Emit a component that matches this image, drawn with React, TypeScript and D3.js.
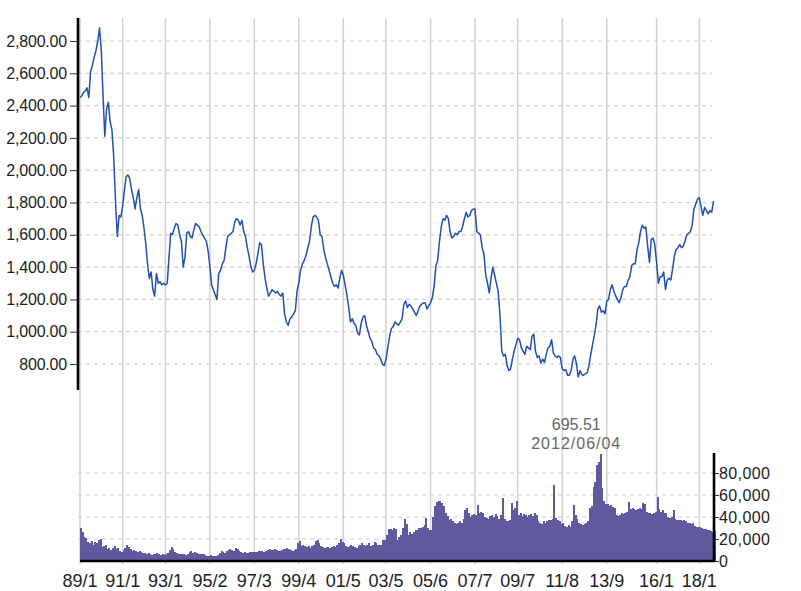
import { useEffect, useRef } from 'react'
import * as d3 from 'd3'

// first month of the series; one value per month after it
const startMonth = new Date(1989, 0, 1)

// monthly index closes, 1989/01 .. 2018/09
const closes = [
	2450, 2460, 2480, 2490, 2510, 2450, 2610, 2650, 2700, 2740, 2800, 2880, // 1989
	2740, 2440, 2210, 2380, 2420, 2300, 2250, 2080, 1800, 1590, 1720, 1710, // 1990
	1780, 1880, 1960, 1970, 1950, 1880, 1830, 1760, 1830, 1880, 1760, 1720, // 1991
	1640, 1540, 1420, 1330, 1370, 1260, 1220, 1360, 1300, 1310, 1290, 1300, // 1992
	1290, 1300, 1450, 1610, 1600, 1640, 1670, 1660, 1600, 1560, 1400, 1460, // 1993
	1610, 1620, 1590, 1580, 1630, 1670, 1660, 1650, 1620, 1600, 1580, 1560, // 1994
	1500, 1400, 1290, 1260, 1230, 1200, 1360, 1380, 1420, 1440, 1520, 1590, // 1995
	1600, 1610, 1620, 1680, 1700, 1690, 1660, 1690, 1620, 1590, 1520, 1470, // 1996
	1400, 1370, 1380, 1420, 1480, 1550, 1540, 1420, 1330, 1270, 1220, 1240, // 1997
	1260, 1250, 1240, 1250, 1230, 1220, 1240, 1110, 1060, 1040, 1080, 1090, // 1998
	1110, 1130, 1250, 1300, 1380, 1420, 1440, 1470, 1520, 1560, 1650, 1710, // 1999
	1720, 1710, 1690, 1600, 1590, 1510, 1460, 1420, 1380, 1340, 1300, 1280, // 2000
	1290, 1270, 1330, 1380, 1350, 1290, 1230, 1150, 1060, 1080, 1050, 1040, // 2001
	990, 980, 1050, 1090, 1100, 1040, 1000, 960, 940, 900, 890, 860, // 2002
	850, 830, 800, 790, 830, 900, 970, 1020, 1030, 1060, 1050, 1040, // 2003
	1060, 1080, 1170, 1190, 1150, 1170, 1160, 1140, 1120, 1100, 1130, 1160, // 2004
	1170, 1180, 1180, 1140, 1160, 1180, 1210, 1280, 1410, 1440, 1560, 1650, // 2005
	1700, 1690, 1720, 1700, 1620, 1580, 1590, 1610, 1600, 1620, 1620, 1650, // 2006
	1700, 1740, 1710, 1720, 1750, 1760, 1760, 1620, 1610, 1600, 1520, 1480, // 2007
	1350, 1300, 1240, 1330, 1400, 1350, 1300, 1250, 1100, 880, 850, 860, // 2008
	790, 760, 770, 830, 880, 920, 960, 950, 900, 880, 860, 910, // 2009
	900, 890, 970, 985, 880, 840, 850, 805, 830, 810, 860, 900, // 2010
	910, 950, 870, 850, 840, 850, 840, 770, 760, 765, 730, 730, // 2011
	760, 830, 850, 800, 720, 760, 735, 730, 740, 745, 790, 860, // 2012
	920, 980, 1040, 1140, 1160, 1120, 1130, 1110, 1190, 1200, 1260, 1290, // 2013
	1250, 1220, 1200, 1180, 1210, 1260, 1280, 1280, 1320, 1340, 1410, 1420, // 2014
	1420, 1510, 1550, 1620, 1660, 1640, 1650, 1530, 1430, 1570, 1580, 1540, // 2015
	1430, 1300, 1340, 1340, 1370, 1260, 1320, 1330, 1320, 1390, 1470, 1510, // 2016
	1520, 1540, 1520, 1530, 1560, 1600, 1610, 1620, 1660, 1760, 1790, 1820, // 2017
	1830, 1770, 1720, 1770, 1750, 1730, 1750, 1740, 1810, // 2018
]

// monthly volume, same months
const volumes = [
	30000, 26000, 22000, 21000, 17000, 16000, 18000, 15000, 17000, 16000, 19000, 20000,
	13000, 14000, 15000, 11000, 12000, 10000, 12000, 14000, 11000, 12000, 9000, 8000,
	10000, 12000, 15000, 13000, 11000, 9000, 10000, 9000, 8000, 9000, 8000, 7000,
	7000, 6000, 7000, 6000, 5500, 6000, 6500, 7000, 6000, 5500, 6000, 5500,
	6000, 7000, 10000, 13000, 11000, 8000, 7000, 6000, 6500, 6000, 6000, 5500,
	6000, 8000, 9000, 7000, 8000, 7500, 6500, 6000, 6500, 6000, 5500, 5000,
	5000, 5500, 5000, 4500, 5000, 5500, 7000, 9000, 8000, 7000, 9000, 10000,
	11000, 10000, 9000, 12000, 11000, 9000, 8000, 7000, 8000, 7000, 7500, 8000,
	8000, 8000, 8500, 8000, 9000, 9500, 9000, 8500, 9000, 10000, 11000, 10000,
	10000, 11000, 10000, 9000, 9500, 10000, 10500, 11000, 12000, 11000, 10000, 9500,
	10000, 11000, 16000, 18000, 14000, 15000, 14000, 13000, 13500, 12000, 14000, 15000,
	18000, 19000, 16000, 14000, 13000, 12000, 12500, 13000, 12000, 13000, 14000, 13000,
	15000, 16000, 20000, 17000, 16000, 14000, 13000, 14000, 15000, 14000, 13000, 12000,
	14000, 15000, 16000, 15000, 14000, 15000, 16000, 14000, 15000, 17000, 16000, 15000,
	14500, 15000, 19000, 19000, 24000, 29000, 29000, 28000, 30000, 29000, 19000, 22000,
	24000, 30000, 38000, 34000, 24000, 26000, 25000, 26000, 28000, 28000, 30000, 30000,
	31000, 33000, 39000, 30000, 28000, 28000, 40000, 50000, 54000, 55000, 55000, 53000,
	50000, 44000, 41000, 37000, 38000, 36000, 35000, 34000, 35000, 36000, 35000, 38000,
	46000, 48000, 44000, 40000, 42000, 43000, 42000, 51000, 44000, 45000, 44000, 40000,
	39000, 38000, 41000, 42000, 40000, 43000, 41000, 38000, 42000, 57000, 38000, 36000,
	36000, 37000, 53000, 46000, 48000, 55000, 42000, 44000, 41000, 43000, 42000, 40000,
	42000, 43000, 41000, 44000, 42000, 36000, 35000, 34000, 36000, 35000, 36000, 37000,
	37000, 38000, 69000, 39000, 37000, 36000, 34000, 35000, 32000, 31000, 33000, 31000,
	36000, 51000, 42000, 38000, 35000, 34000, 33000, 34000, 35000, 36000, 48000, 50000,
	67000, 72000, 87000, 90000, 97000, 66000, 55000, 52000, 52000, 50000, 51000, 49000,
	48000, 42000, 41000, 42000, 44000, 43000, 44000, 45000, 54000, 47000, 48000, 47000,
	46000, 47000, 48000, 47000, 53000, 52000, 45000, 44000, 44000, 43000, 44000, 45000,
	58000, 47000, 45000, 46000, 44000, 44000, 40000, 39000, 40000, 46000, 38000, 37000,
	37000, 37000, 36000, 37000, 36000, 35000, 35000, 34000, 35000, 32000, 31000, 31000,
	31000, 30000, 29000, 29000, 28000, 28000, 27000, 26000, 27000,
]

const xTickDates = [
	'1989-01', '1991-01', '1993-01', '1995-02', '1997-03', '1999-04', '2001-05', '2003-05',
	'2005-06', '2007-07', '2009-07', '2011-08', '2013-09', '2016-01', '2018-01',
]
const xTickLabels = [
	'89/1', '91/1', '93/1', '95/2', '97/3', '99/4', '01/5', '03/5',
	'05/6', '07/7', '09/7', '11/8', '13/9', '16/1', '18/1',
]
const priceTicks = [800, 1000, 1200, 1400, 1600, 1800, 2000, 2200, 2400, 2600, 2800]
const volumeTicks = [0, 20000, 40000, 60000, 80000]
const lowValue = '695.51'
const lowDate = '2012/06/04'

const FONT = "'Liberation Sans', Arial, sans-serif"

const App = () => {
	const svgRef = useRef(null)

	useEffect(() => {
		const svg = d3.select(svgRef.current)
		svg.selectAll('*').remove()

		// layout
		const left = 78
		const right = 714
		const priceTop = 18
		const priceBottom = 390
		const volTop = 453
		const volBottom = 561

		const months = closes.map((_, i) => d3.timeMonth.offset(startMonth, i))
		const endMonth = d3.timeMonth.offset(startMonth, closes.length)
		const parse = d3.timeParse('%Y-%m')

		const x = d3.scaleTime().domain([startMonth, endMonth]).range([80, 715.3])
		const yP = d3.scaleLinear().domain([800, 2800]).range([364, 41])
		const yV = d3.scaleLinear().domain([0, 80000]).range([volBottom, 473])

		// vertical grid, through both panels
		svg
			.append('g')
			.selectAll('line')
			.data(xTickDates)
			.enter()
			.append('line')
			.attr('x1', (d) => x(parse(d)))
			.attr('x2', (d) => x(parse(d)))
			.attr('y1', priceTop)
			.attr('y2', volBottom + 3)
			.attr('stroke', '#d2d2d2')
			.attr('stroke-width', 1.5)

		// horizontal dashed grid
		svg
			.append('g')
			.selectAll('line')
			.data(priceTicks)
			.enter()
			.append('line')
			.attr('x1', left)
			.attr('x2', 712)
			.attr('y1', (d) => yP(d))
			.attr('y2', (d) => yP(d))
			.attr('stroke', '#cfcfcf')
			.attr('stroke-width', 1.2)
			.attr('stroke-dasharray', '4,4')

		svg
			.append('g')
			.selectAll('line')
			.data(volumeTicks.slice(1))
			.enter()
			.append('line')
			.attr('x1', left)
			.attr('x2', right)
			.attr('y1', (d) => yV(d))
			.attr('y2', (d) => yV(d))
			.attr('stroke', '#cfcfcf')
			.attr('stroke-width', 1.2)
			.attr('stroke-dasharray', '4,4')

		// volume bars
		svg
			.append('g')
			.attr('shape-rendering', 'crispEdges')
			.selectAll('rect')
			.data(volumes)
			.enter()
			.append('rect')
			.attr('x', (d, i) => x(months[i]))
			.attr('width', (d, i) => x(d3.timeMonth.offset(months[i], 1)) - x(months[i]) + 0.2)
			.attr('y', (d) => yV(d))
			.attr('height', (d) => yV(0) - yV(d))
			.attr('fill', '#5e5a9d')

		// price line
		const line = d3
			.line()
			.x((d, i) => x(months[i]))
			.y((d) => yP(d))

		svg
			.append('path')
			.datum(closes)
			.attr('d', line)
			.attr('fill', 'none')
			.attr('stroke', '#2151ad')
			.attr('stroke-width', 1.5)
			.attr('stroke-linejoin', 'round')

		// left price axis
		const pAxis = svg
			.append('g')
			.attr('transform', `translate(${left},0)`)
			.call(d3.axisLeft(yP).tickValues(priceTicks).tickFormat(d3.format(',.2f')).tickSize(8).tickPadding(3))
		pAxis.select('.domain').remove()
		pAxis.selectAll('line').attr('stroke', '#333')
		pAxis
			.selectAll('text')
			.attr('font-size', 16)
			.attr('font-family', FONT)
			.attr('fill', '#222')
			.attr('letter-spacing', -0.2)
		svg
			.append('line')
			.attr('x1', left)
			.attr('x2', left)
			.attr('y1', priceTop)
			.attr('y2', priceBottom)
			.attr('stroke', '#000')
			.attr('stroke-width', 2.6)

		// right volume axis
		const vAxis = svg
			.append('g')
			.attr('transform', `translate(${right},0)`)
			.call(d3.axisRight(yV).tickValues(volumeTicks).tickFormat(d3.format(',')).tickSize(5).tickPadding(0))
		vAxis.select('.domain').remove()
		vAxis.selectAll('line').attr('stroke', '#333')
		vAxis
			.selectAll('text')
			.attr('font-size', 16)
			.attr('font-family', FONT)
			.attr('fill', '#222')
			.attr('letter-spacing', 0.4)
		svg
			.append('line')
			.attr('x1', right)
			.attr('x2', right)
			.attr('y1', volTop)
			.attr('y2', volBottom + 1)
			.attr('stroke', '#000')
			.attr('stroke-width', 2.6)

		// bottom axis
		svg
			.append('line')
			.attr('x1', 80)
			.attr('x2', right)
			.attr('y1', volBottom)
			.attr('y2', volBottom)
			.attr('stroke', '#000')
			.attr('stroke-width', 2.4)

		svg
			.append('g')
			.selectAll('text')
			.data(xTickDates)
			.enter()
			.append('text')
			.attr('x', (d) => x(parse(d)))
			.attr('y', 587)
			.attr('text-anchor', 'middle')
			.attr('font-size', 18)
			.attr('font-family', FONT)
			.attr('fill', '#222')
			.text((d, i) => xTickLabels[i])

		// low annotation
		const lowX = x(d3.timeParse('%Y/%m/%d')(lowDate)) - 4
		svg
			.append('text')
			.attr('x', lowX)
			.attr('y', 430)
			.attr('text-anchor', 'middle')
			.attr('font-size', 16)
			.attr('font-family', FONT)
			.attr('fill', '#666')
			.text(lowValue)
		svg
			.append('text')
			.attr('x', lowX)
			.attr('y', 449)
			.attr('text-anchor', 'middle')
			.attr('font-size', 16)
			.attr('font-family', FONT)
			.attr('fill', '#666')
			.attr('letter-spacing', 1)
			.text(lowDate)
	}, [])

	return (
		<svg
			ref={svgRef}
			width={801}
			height={591}
			style={{ position: 'absolute', left: 0, top: 0, background: '#fff' }}
		></svg>
	)
}

export default App
